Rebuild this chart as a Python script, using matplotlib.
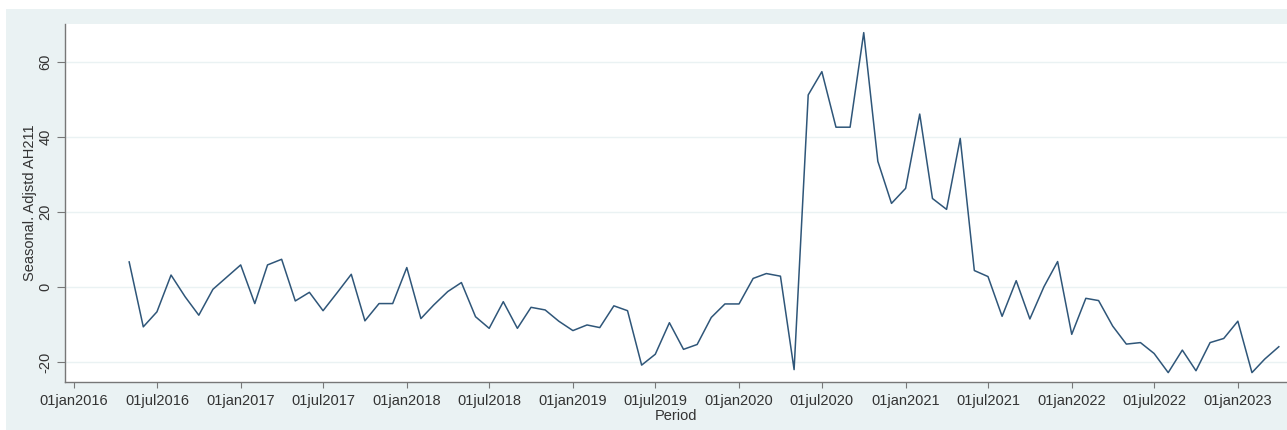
import numpy as np
import pandas as pd
import matplotlib
matplotlib.use("Agg")
from matplotlib import pyplot as plt
from matplotlib.patches import Rectangle

plt.rcParams['font.family'] = ['Liberation Sans', 'DejaVu Sans']

# monthly series, May 2016 - Apr 2023
start_month = "2016-05-01"
values_2016 = [6.7, -10.6, -6.6, 3.2, -2.6, -7.5, -0.6, 2.6]
values_2017 = [5.9, -4.4, 5.9, 7.4, -3.7, -1.4, -6.3, -1.5, 3.4, -9.0, -4.4, -4.4]
values_2018 = [5.2, -8.4, -4.8, -1.2, 1.2, -7.9, -11.0, -3.9, -11.0, -5.4, -6.1, -9.1]
values_2019 = [-11.6, -10.1, -10.8, -5.0, -6.3, -20.8, -17.9, -9.5, -16.6, -15.3, -8.1, -4.5]
values_2020 = [-4.5, 2.3, 3.6, 2.9, -22.0, 51.2, 57.4, 42.6, 42.6, 67.8, 33.5, 22.3]
values_2021 = [26.3, 46.1, 23.6, 20.7, 39.6, 4.4, 2.8, -7.8, 1.7, -8.5, 0.1, 6.8]
values_2022 = [-12.6, -3.0, -3.6, -10.4, -15.2, -14.8, -17.7, -22.8, -16.8, -22.3, -14.8, -13.7]
values_2023 = [-9.1, -22.8, -19.2, -15.9]

values = (values_2016 + values_2017 + values_2018 + values_2019
          + values_2020 + values_2021 + values_2022 + values_2023)
period = pd.date_range(start_month, periods=len(values), freq="MS")

xtick_dates = ["2016-01-01", "2016-07-01", "2017-01-01", "2017-07-01",
               "2018-01-01", "2018-07-01", "2019-01-01", "2019-07-01",
               "2020-01-01", "2020-07-01", "2021-01-01", "2021-07-01",
               "2022-01-01", "2022-07-01", "2023-01-01"]
xtick_labels = ["01jan2016", "01jul2016", "01jan2017", "01jul2017",
                "01jan2018", "01jul2018", "01jan2019", "01jul2019",
                "01jan2020", "01jul2020", "01jan2021", "01jul2021",
                "01jan2022", "01jul2022", "01jan2023"]
yticks = [-20, 0, 20, 40, 60]

W, H = 1287, 430
fig = plt.figure(figsize=(W / 100, H / 100), dpi=100)
fig.patch.set_facecolor("white")
# stata-like outer panel
fig.patches.append(Rectangle((6 / W, 0), 1 - 6 / W, (H - 9) / H,
                             transform=fig.transFigure, facecolor="#eaf2f3",
                             edgecolor="none", zorder=-10))

ax = fig.add_axes([65 / W, (H - 382) / H, (W - 65) / W, (382 - 24) / H])
ax.set_zorder(1)
ax.set_facecolor("white")
ax.plot(period, values, color="#2f5679", lw=1.1)

ax.set_xlim(pd.Timestamp("2015-12-12"), pd.Timestamp("2023-04-19"))
ax.set_ylim(-25.3, 70.1)
ax.set_xticks(pd.to_datetime(xtick_dates))
ax.set_xticklabels(xtick_labels)
ax.set_yticks(yticks)
ax.set_yticklabels([str(v) for v in yticks], rotation=90, va="center")

ax.grid(axis="y", color="#eaf2f3", lw=1.0)
ax.set_axisbelow(True)
for s in ["top", "right"]:
    ax.spines[s].set_visible(False)
for s in ["left", "bottom"]:
    ax.spines[s].set_color("#777777")
    ax.spines[s].set_linewidth(1.0)

ax.tick_params(axis="x", length=4, width=0.8, color="#777777", pad=5,
               labelsize=10.5, labelcolor="#333333")
ax.tick_params(axis="y", length=6, width=0.8, color="#777777", pad=3,
               labelsize=10.5, labelcolor="#333333")

ax.set_xlabel("Period", fontsize=10.5, color="#333333", labelpad=0)
ax.set_ylabel("Seasonal. Adjstd AH211", fontsize=10.5, color="#333333", labelpad=1)

fig.savefig("out.png", dpi=100)
